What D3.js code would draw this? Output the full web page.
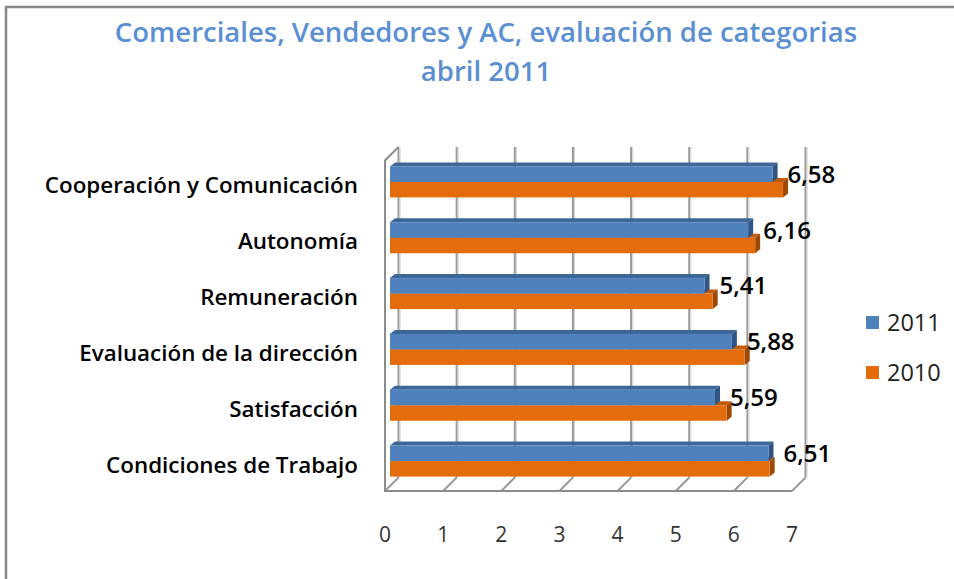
<!DOCTYPE html>
<html>
<head>
<meta charset="utf-8">
<script src="https://cdn.jsdelivr.net/npm/d3@7"></script>
<style>
  body { margin: 0; background: #fff; }
  text { font-family: "Open Sans", Lato, sans-serif; }
</style>
</head>
<body>
<div id="container"></div>
<script>
// data
const categories = ["Cooperación y Comunicación", "Autonomía", "Remuneración",
  "Evaluación de la dirección", "Satisfacción", "Condiciones de Trabajo"];
const values2011 = [6.58, 6.16, 5.41, 5.88, 5.59, 6.51];
const values2010 = [6.76, 6.28, 5.55, 6.10, 5.79, 6.53];
const seriesNames = ["2011", "2010"];
const tickValues = [0, 1, 2, 3, 4, 5, 6, 7];
const titleLines = ["Comerciales, Vendedores y AC, evaluación de categorias", "abril 2011"];

const width = 954, height = 579;
const depth = 13.5;       // wall depth (px, goes up-right)
const barOff = 5;         // bar front plane offset into the depth
const barD = 5;           // bar thickness in depth
const barH = 15.5;
const wallTop = 147, floorY = 491;

const blue = {front: "#4f81bd", top: "#3d6699", side: "#2f5585"};
const orange = {front: "#e46c0a", top: "#c25a08", side: "#9c4806"};

const svg = d3.select("#container").append("svg")
  .attr("width", width)
  .attr("height", height);

// outer frame (only top and left edges show)
svg.append("path")
  .attr("d", `M6,${height} L6,7 L${width},7`)
  .attr("fill", "none")
  .attr("stroke", "#888")
  .attr("stroke-width", 2.5);

// title
svg.append("g").selectAll("text").data(titleLines).join("text")
  .attr("x", 486)
  .attr("y", (d, i) => 42 + i * 39)
  .attr("text-anchor", "middle")
  .attr("fill", "#5b8fd4")
  .attr("font-size", 27.5)
  .attr("font-weight", 600)
  .text(d => d);

// scales
const x = d3.scaleLinear().domain([0, 7]).range([385, 792]);
const y = d3.scalePoint().domain(categories).range([154, 489]).padding(0.5);

// walls + gridlines
const grid = svg.append("g").attr("fill", "none");
grid.selectAll("line.back").data(tickValues).join("line")
  .attr("class", "back")
  .attr("x1", d => x(d) + depth).attr("x2", d => x(d) + depth)
  .attr("y1", wallTop).attr("y2", floorY - depth)
  .attr("stroke", "#9a9a9a").attr("stroke-width", 2);
grid.selectAll("line.backhi").data(tickValues).join("line")
  .attr("class", "backhi")
  .attr("x1", d => x(d) + depth + 1.6).attr("x2", d => x(d) + depth + 1.6)
  .attr("y1", wallTop).attr("y2", floorY - depth)
  .attr("stroke", "#d4d4d4").attr("stroke-width", 1);
grid.selectAll("line.floor").data(tickValues).join("line")
  .attr("class", "floor")
  .attr("x1", d => x(d) + depth).attr("y1", floorY - depth)
  .attr("x2", d => x(d)).attr("y2", floorY)
  .attr("stroke", "#9a9a9a").attr("stroke-width", 2);
grid.append("path")
  .attr("d", `M${x(0) + depth},${wallTop} L${x(0)},${wallTop + depth} L${x(0)},${floorY} L${x(7)},${floorY}`)
  .attr("stroke", "#8c8c8c").attr("stroke-width", 2);

// bars
function bar3d(g, x0, x1, y0, c) {
  const dx = barD, dy = barD * 0.8;
  g.append("path")
    .attr("d", `M${x0},${y0} L${x0 + dx},${y0 - dy} L${x1 + dx},${y0 - dy} L${x1},${y0} Z`)
    .attr("fill", c.top);
  g.append("path")
    .attr("d", `M${x1},${y0} L${x1 + dx},${y0 - dy} L${x1 + dx},${y0 + barH - dy} L${x1},${y0 + barH} Z`)
    .attr("fill", c.side);
  g.append("rect")
    .attr("x", x0).attr("y", y0)
    .attr("width", x1 - x0).attr("height", barH)
    .attr("fill", c.front);
}

const bars = svg.append("g");
categories.forEach((cat, i) => {
  const g = bars.append("g");
  bar3d(g, x(0) + barOff, x(values2010[i]) + barOff, y(cat), orange);
  bar3d(g, x(0) + barOff, x(values2011[i]) + barOff, y(cat) - barH, blue);
});

// data labels (2011 series)
const fmt = d3.formatLocale({decimal: ",", thousands: ".", grouping: [3], currency: ["", "€"]}).format(".2f");
svg.append("g").selectAll("text").data(categories).join("text")
  .attr("x", (d, i) => x(values2011[i]) + barOff + 15)
  .attr("y", d => y(d) - barH / 2 + 8.5)
  .attr("font-size", 24)
  .attr("font-weight", 600)
  .attr("fill", "#000")
  .text((d, i) => fmt(values2011[i]));

// category labels
svg.append("g").selectAll("text").data(categories).join("text")
  .attr("x", 358)
  .attr("y", d => y(d) + 11.5)
  .attr("text-anchor", "end")
  .attr("font-size", 22.4)
  .attr("font-weight", 600)
  .attr("fill", "#000")
  .text(d => d);

// value axis labels
svg.append("g").selectAll("text").data(tickValues).join("text")
  .attr("x", d => x(d))
  .attr("y", 542)
  .attr("text-anchor", "middle")
  .attr("font-size", 21)
  .attr("fill", "#333")
  .text(d => d);

// legend
const legend = svg.append("g").selectAll("g").data(seriesNames).join("g")
  .attr("transform", (d, i) => `translate(866,${316 + i * 50})`);
legend.append("rect")
  .attr("width", 13).attr("height", 13)
  .attr("fill", (d, i) => i === 0 ? blue.front : orange.front);
legend.append("text")
  .attr("x", 21).attr("y", 14.5)
  .attr("font-size", 23.5)
  .attr("fill", "#222")
  .text(d => d);
</script>
</body>
</html>
